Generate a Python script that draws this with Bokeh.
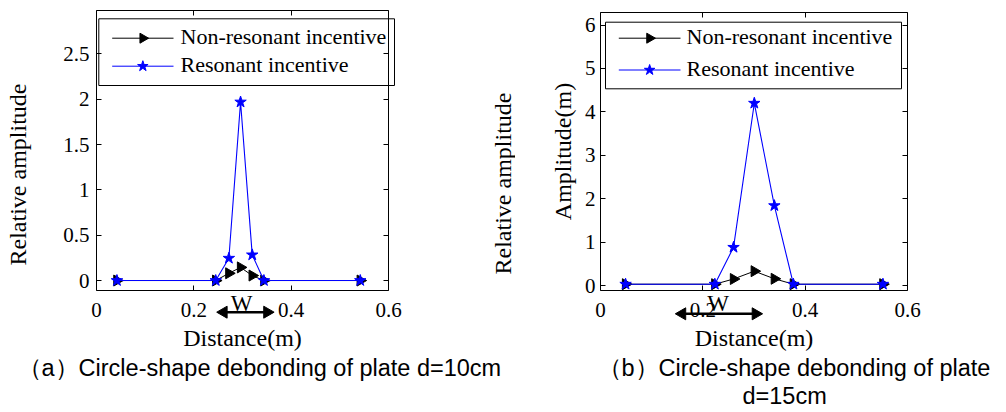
import math

from bokeh.core.properties import value
from bokeh.embed import file_html
from bokeh.layouts import row
from bokeh.models import CustomJSTickFormatter, FixedTicker, LinearAxis, Range1d
from bokeh.plotting import figure
from bokeh.resources import INLINE

SERIF = "Liberation Serif"
SANS = "Liberation Sans"
NBSP = "\u00a0"

# ---- panel (a): plate with d = 10 cm debonding ----
dist_a = [0.042, 0.245, 0.272, 0.296, 0.320, 0.344, 0.542]
nonres_a = [0.0, 0.0, 0.08, 0.145, 0.055, 0.0, 0.0]
res_a = [0.0, 0.0, 0.246, 1.97, 0.283, 0.0, 0.0]
yticks_a = [0, 0.5, 1, 1.5, 2, 2.5]
ylim_a = (-0.11, 2.98)
w_span_a = (0.251, 0.361)
w_label_x_a = 0.298

# ---- panel (b): plate with d = 15 cm debonding ----
dist_b = [0.049, 0.2235, 0.260, 0.3006, 0.3398, 0.377, 0.552]
nonres_b = [0.03, 0.03, 0.15, 0.33, 0.155, 0.03, 0.03]
res_b = [0.03, 0.03, 0.88, 4.2, 1.84, 0.03, 0.03]
yticks_b = [0, 1, 2, 3, 4, 5, 6]
ylim_b = (-0.115, 6.29)
w_span_b = (0.150, 0.313)
w_label_x_b = 0.230

xticks = [0, 0.2, 0.4, 0.6]
xlim = (0, 0.6)

series_names = ["Non-resonant incentive", "Resonant incentive"]
series_colors = ["black", "#0000ff"]
caption_a = "\uff08a\uff09Circle-shape debonding of plate d=10cm"
caption_b = ["\uff08b\uff09Circle-shape debonding of plate", "d=15cm"]

H = 412
num_fmt = "return String(Math.round(tick * 100) / 100)"


class Geom:
    """Maps canvas pixels of one figure to its data coordinates.

    The plot frame fills the whole canvas; the axes box is drawn by
    fixed-location axes, so titles, captions and the W marker can sit
    anywhere on the canvas.
    """

    def __init__(self, width, box, xl, yl):
        left, right, top, bottom = box
        self.kx = (xl[1] - xl[0]) / (right - left)
        self.ky = (yl[1] - yl[0]) / (bottom - top)
        self.x0 = xl[0] - left * self.kx
        self.y_top = yl[1] + top * self.ky
        self.width = width

    def x(self, px):
        return self.x0 + px * self.kx

    def y(self, py):
        return self.y_top - py * self.ky

    def ranges(self):
        return (Range1d(self.x0, self.x(self.width)),
                Range1d(self.y(H), self.y_top))


def box_axis(ticks, loc, bounds, labelled, standoff=0):
    ax = LinearAxis(fixed_location=loc, bounds=bounds,
                    ticker=FixedTicker(ticks=ticks),
                    major_tick_in=5, major_tick_out=0,
                    minor_tick_line_color=None, axis_line_color="black",
                    axis_line_width=1, major_tick_line_width=1)
    if labelled:
        ax.formatter = CustomJSTickFormatter(code=num_fmt)
        ax.major_label_text_font = SERIF
        ax.major_label_text_font_size = "21px"
        ax.major_label_text_color = "black"
        ax.major_label_standoff = standoff
    else:
        ax.formatter = CustomJSTickFormatter(code="return ''")
        ax.major_label_text_font_size = "1px"
        ax.major_label_standoff = 0
    return ax


def axis_title(ax, text, standoff):
    ax.axis_label = text
    ax.axis_label_text_font = SERIF
    ax.axis_label_text_font_size = "24px"
    ax.axis_label_text_font_style = "normal"
    ax.axis_label_text_color = "black"
    ax.axis_label_standoff = standoff


def put_text(p, x, y, text, font, size, align="left", angle=0.0):
    p.text([x], [y], text=[text], text_font=value(font),
           text_font_size=size, text_color="black", text_align=align,
           text_baseline="middle", angle=angle)


def build_panel(width, box, dist, nonres, res, yticks, ylim, ytick_standoff,
                ylabel, ylabel_standoff, legend_px, w_span, w_label_x,
                arrow_py):
    g = Geom(width, box, xlim, ylim)
    xr, yr = g.ranges()
    p = figure(width=width, height=H, x_range=xr, y_range=yr,
               output_backend="svg", toolbar_location=None, title=None,
               min_border=0, x_axis_location=None, y_axis_location=None)
    p.grid.visible = False
    p.outline_line_color = None
    p.background_fill_color = "white"
    p.border_fill_color = "white"

    # axes box with inward ticks on all four sides
    bottom = box_axis(xticks, ylim[0], xlim, True, 12)
    axis_title(bottom, "Distance(m)", 5)
    p.add_layout(bottom, "below")
    left = box_axis(yticks, xlim[0], ylim, True, ytick_standoff)
    axis_title(left, ylabel, ylabel_standoff)
    p.add_layout(left, "left")
    p.add_layout(box_axis(xticks, ylim[1], xlim, False), "above")
    p.add_layout(box_axis(yticks, xlim[1], ylim, False), "right")

    # data series
    p.line(dist, nonres, line_color=series_colors[0], line_width=1)
    p.scatter(dist, nonres, marker="triangle", angle=-math.pi / 2, size=11,
              fill_color=series_colors[0], line_color=series_colors[0])
    p.line(dist, res, line_color=series_colors[1], line_width=1.1)
    p.scatter(dist, res, marker="star", size=12,
              fill_color=series_colors[1], line_color=series_colors[1])

    # legend box
    (bx0, by0, bx1, by1), rows_py, (lx0, lx1), tx = legend_px
    p.quad(left=[g.x(bx0)], right=[g.x(bx1)], top=[g.y(by0)],
           bottom=[g.y(by1)], fill_color="white", line_color="black",
           line_width=1)
    markers = [("triangle", -math.pi / 2, 10), ("star", 0.0, 11)]
    for name, color, (mk, ang, sz), py in zip(series_names, series_colors,
                                             markers, rows_py):
        yy = g.y(py)
        p.line([g.x(lx0), g.x(lx1)], [yy, yy], line_color=color, line_width=1)
        p.scatter([g.x((lx0 + lx1) / 2)], [yy], marker=mk, angle=ang,
                  size=sz, fill_color=color, line_color=color)
        put_text(p, g.x(tx), g.y(py - 2), name, SERIF, "22px")

    # debonding width W: double-headed arrow under the distance axis
    ya = g.y(arrow_py)
    inset = 5 * g.kx
    p.segment(x0=[w_span[0] + inset], y0=[ya], x1=[w_span[1] - inset],
              y1=[ya], line_color="black", line_width=2.5)
    p.scatter([w_span[0] + inset, w_span[1] - inset], [ya, ya],
              marker="triangle", angle=[math.pi / 2, -math.pi / 2], size=12,
              fill_color="black", line_color="black")
    put_text(p, w_label_x, g.y(303), "W", SERIF, "23px", align="center")
    return p, g


pa, ga = build_panel(
    515, (96, 388, 10, 290), dist_a, nonres_a, res_a, yticks_a, ylim_a, 7,
    "Relative amplitude" + NBSP * 8, 29,
    ((98.3, 18.3, 394, 85), (37.7, 65.7), (111.7, 173), 180),
    w_span_a, w_label_x_a, 311.7)

pb, gb = build_panel(
    491, (85, 392, 12, 290), dist_b, nonres_b, res_b, yticks_b, ylim_b, 5,
    "Amplitude(m)", 6,
    ((90, 21.7, 386, 88.3), (37.7, 69.5), (103.3, 165), 171),
    w_span_b, w_label_x_b, 313.3)

# outer title of panel (b); it lies in the gap left of panel (b)
put_text(pa, ga.x(502), ga.y(183), "Relative amplitude", SERIF, "24px",
         align="center", angle=math.pi / 2)

# captions
put_text(pa, ga.x(17), ga.y(367), caption_a, SANS, "23.5px")
put_text(pb, gb.x(82), gb.y(367), caption_b[0], SANS, "23.5px")
put_text(pb, gb.x(227), gb.y(395), caption_b[1], SANS, "23.5px")

layout = row(pa, pb)

with open("out.html", "w") as f:
    f.write(file_html(layout, INLINE))
